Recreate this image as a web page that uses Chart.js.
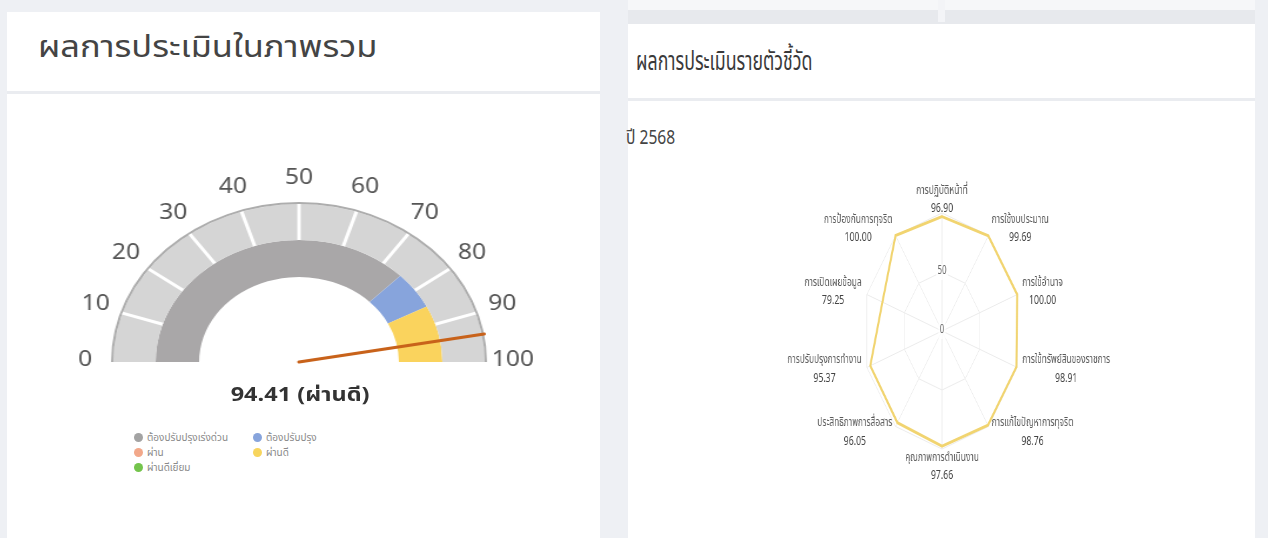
<!DOCTYPE html>
<html lang="th">
<head>
  <meta charset="UTF-8">
  <title>ผลการประเมิน</title>
  <script src="https://cdn.jsdelivr.net/npm/chart.js"></script>
  <style>
    body { margin: 0; width: 1268px; height: 538px; background: #eef0f4; position: relative; overflow: hidden;
           font-family: "Noto Sans Thai", "Noto Sans", "DejaVu Sans", sans-serif; }
    .box { position: absolute; background: #fff; }
    .line { position: absolute; background: #eaecf0; }
    .txt { position: absolute; white-space: nowrap; }
    #gaugeWrap { position: absolute; left: 79px; top: 157px; width: 440px; height: 230px; transform: scaleX(1.175); transform-origin: 220px 0; }
    #radarWrap { position: absolute; left: 642px; top: 167px; width: 600px; height: 330px; transform: scaleX(0.67); transform-origin: 300px 0; }
    .leg { position: absolute; font-size: 10px; color: #8a8a8a; white-space: nowrap; }
    .leg i { display: inline-block; width: 9px; height: 9px; border-radius: 50%; margin-right: 4px; vertical-align: -1px; }
  </style>
</head>
<body>
  <!-- left card -->
  <div class="box" style="left:7px; top:12px; width:593px; height:530px;"></div>
  <div class="line" style="left:7px; top:91px; width:593px; height:3px;"></div>
  <div class="txt" style="left:38px; top:24px; font-size:31px; color:#444; transform:scaleX(1.11); transform-origin:0 0;">ผลการประเมินในภาพรวม</div>

  <!-- right card -->
  <div class="line" style="left:628px; top:0; width:627px; height:10px; background:#f6f7f9;"></div>
  <div class="line" style="left:628px; top:10px; width:627px; height:14px; background:#e7e9ed;"></div>
  <div class="line" style="left:938px; top:0; width:7px; height:22px; background:#f3f4f7;"></div>
  <div class="box" style="left:628px; top:24px; width:627px; height:514px;"></div>
  <div class="line" style="left:628px; top:98px; width:627px; height:3px;"></div>
  <div class="txt" style="left:636px; top:42px; font-size:26.5px; color:#3a3a3a; transform:scaleX(0.67); transform-origin:0 0;">ผลการประเมินรายตัวชี้วัด</div>
  <div class="txt" style="left:626px; top:123px; font-size:20px; color:#444; transform:scaleX(0.78); transform-origin:0 0;">ปี 2568</div>

  <div id="gaugeWrap"><canvas id="gauge" width="440" height="230"></canvas></div>
  <div class="txt" style="left:0; width:600px; top:380px; text-align:center;">
    <span id="scoreText" style="display:inline-block; font-size:20px; font-weight:bold; color:#333; transform:scaleX(1.175);"></span>
  </div>
  <div id="legend"></div>

  <div id="radarWrap"><canvas id="radar" width="600" height="330"></canvas></div>

  <script>
    // gauge
    const gaugeTicks = ["0", "10", "20", "30", "40", "50", "60", "70", "80", "90", "100"];
    const bandSlices = [10, 10, 10, 10, 10, 10, 10, 10, 10, 10];
    const zoneValues = [75, 10, 15];
    const zoneColors = ["#a9a7a8", "#87a4dc", "#fad35d"];
    const score = 94.41;
    const scoreLabel = "94.41 (ผ่านดี)";
    const legendLabels = ["ต้องปรับปรุงเร่งด่วน", "ต้องปรับปรุง", "ผ่าน", "ผ่านดี", "ผ่านดีเยี่ยม"];
    const legendColors = ["#a3a3a3", "#87a4dc", "#f2a88a", "#f7d55e", "#74c44c"];

    // radar
    const indicatorNames = ["การปฏิบัติหน้าที่", "การใช้งบประมาณ", "การใช้อำนาจ", "การใช้ทรัพย์สินของราชการ",
      "การแก้ไขปัญหาการทุจริต", "คุณภาพการดำเนินงาน", "ประสิทธิภาพการสื่อสาร", "การปรับปรุงการทำงาน",
      "การเปิดเผยข้อมูล", "การป้องกันการทุจริต"];
    const indicatorScores = [96.90, 99.69, 100.00, 98.91, 98.76, 97.66, 96.05, 95.37, 79.25, 100.00];
    const radarTicks = [0, 50, 100];

    const fontFamily = '"Noto Sans Thai", "Noto Sans", "DejaVu Sans", sans-serif';
    Chart.defaults.font.family = fontFamily;

    document.getElementById("scoreText").textContent = scoreLabel;

    const legendPos = [[134, 430], [253, 430], [134, 445], [253, 445], [134, 460]];
    const legend = document.getElementById("legend");
    legendLabels.forEach((name, i) => {
      const d = document.createElement("div");
      d.className = "leg";
      d.style.left = legendPos[i][0] + "px";
      d.style.top = legendPos[i][1] + "px";
      d.innerHTML = '<i style="background:' + legendColors[i] + '"></i>' + name;
      legend.appendChild(d);
    });

    const gaugeDecor = {
      id: "gaugeDecor",
      afterDatasetsDraw(chart) {
        const ctx = chart.ctx;
        const rim = chart.getDatasetMeta(0).data[0];
        const band = chart.getDatasetMeta(1).data;
        const cx = rim.x, cy = rim.y;
        const start = band[0].startAngle;
        const span = band[band.length - 1].endAngle - start;
        ctx.save();
        // white tick marks between the light slices
        ctx.strokeStyle = "#fff";
        ctx.lineWidth = 3;
        band.slice(0, -1).forEach(a => {
          ctx.beginPath();
          ctx.moveTo(cx + Math.cos(a.endAngle) * a.innerRadius, cy + Math.sin(a.endAngle) * a.innerRadius);
          ctx.lineTo(cx + Math.cos(a.endAngle) * a.outerRadius, cy + Math.sin(a.endAngle) * a.outerRadius);
          ctx.stroke();
        });
        // numbers around the dial
        ctx.fillStyle = "#555";
        ctx.font = "21px " + fontFamily;
        ctx.textAlign = "center";
        ctx.textBaseline = "middle";
        const r = rim.outerRadius + 22;
        gaugeTicks.forEach(t => {
          const ang = start + span * Number(t) / 100;
          ctx.fillText(t, cx + Math.cos(ang) * r, cy + Math.sin(ang) * r);
        });
        // needle
        const na = start + span * score / 100;
        ctx.strokeStyle = "#c8621a";
        ctx.lineWidth = 3;
        ctx.lineCap = "round";
        ctx.beginPath();
        ctx.moveTo(cx, cy);
        ctx.lineTo(cx + Math.cos(na) * rim.outerRadius, cy + Math.sin(na) * rim.outerRadius);
        ctx.stroke();
        ctx.restore();
      }
    };

    new Chart(document.getElementById("gauge"), {
      type: "doughnut",
      data: {
        datasets: [
          { data: [100], backgroundColor: "#adadad", borderWidth: 0, weight: 2 },
          { data: bandSlices, backgroundColor: "#d5d5d5", borderWidth: 0, weight: 36 },
          { data: zoneValues, backgroundColor: zoneColors, borderWidth: 0, weight: 37 }
        ]
      },
      options: {
        responsive: false,
        animation: false,
        rotation: -90,
        circumference: 180,
        radius: 160,
        cutout: "53.125%",
        layout: { padding: { left: 60, right: 60, top: 45, bottom: 25 } },
        plugins: { legend: { display: false }, tooltip: { enabled: false } }
      },
      plugins: [gaugeDecor]
    });

    const radarLabels = {
      id: "radarLabels",
      afterDraw(chart) {
        const ctx = chart.ctx;
        const s = chart.scales.r;
        const n = indicatorNames.length;
        ctx.save();
        ctx.textAlign = "center";
        ctx.textBaseline = "middle";
        indicatorNames.forEach((name, i) => {
          const deg = Math.round(i * 360 / n);
          const edge = deg === 0 || deg === 180;
          const p = s.getPointPosition(i, s.drawingArea + (edge ? 0 : 8));
          const val = indicatorScores[i].toFixed(2);
          ctx.font = "12.5px " + fontFamily;
          const w1 = ctx.measureText(name).width;
          ctx.font = "13px " + fontFamily;
          const w2 = ctx.measureText(val).width;
          const w = Math.max(w1, w2);
          const lh = 18;
          const left = edge ? p.x - w / 2 : (deg < 180 ? p.x : p.x - w);
          const top = deg === 0 ? p.y - lh * 2 + 5 : (deg === 180 ? p.y : p.y - lh);
          ctx.fillStyle = "#5a5a5a";
          ctx.font = "12.5px " + fontFamily;
          ctx.fillText(name, left + w / 2, top + lh / 2);
          ctx.fillStyle = "#444";
          ctx.font = "13px " + fontFamily;
          ctx.fillText(val, left + w / 2, top + lh * 1.5);
        });
        ctx.restore();
      }
    };

    new Chart(document.getElementById("radar"), {
      type: "radar",
      data: {
        labels: indicatorNames,
        datasets: [{
          data: indicatorScores,
          borderColor: "#f1d470",
          backgroundColor: "rgba(0,0,0,0)",
          borderWidth: 3,
          pointRadius: 0,
          fill: false
        }]
      },
      options: {
        responsive: false,
        animation: false,
        layout: { padding: { top: 38, bottom: 39 } },
        plugins: { legend: { display: false }, tooltip: { enabled: false } },
        scales: {
          r: {
            min: 0,
            max: 100,
            afterBuildTicks: scale => {
              scale.ticks = [{ value: radarTicks[0] }].concat(radarTicks.map(v => ({ value: v })));
            },
            ticks: {
              color: "#666",
              font: { size: 12 },
              callback: v => v === 100 ? "" : String(v),
              showLabelBackdrop: c => !!c.tick && c.tick.value !== 100,
              backdropColor: "rgba(255,255,255,0.8)"
            },
            grid: { color: "#ebebeb" },
            angleLines: { color: "#ebebeb" },
            pointLabels: { display: false }
          }
        }
      },
      plugins: [radarLabels]
    });
  </script>
</body>
</html>
